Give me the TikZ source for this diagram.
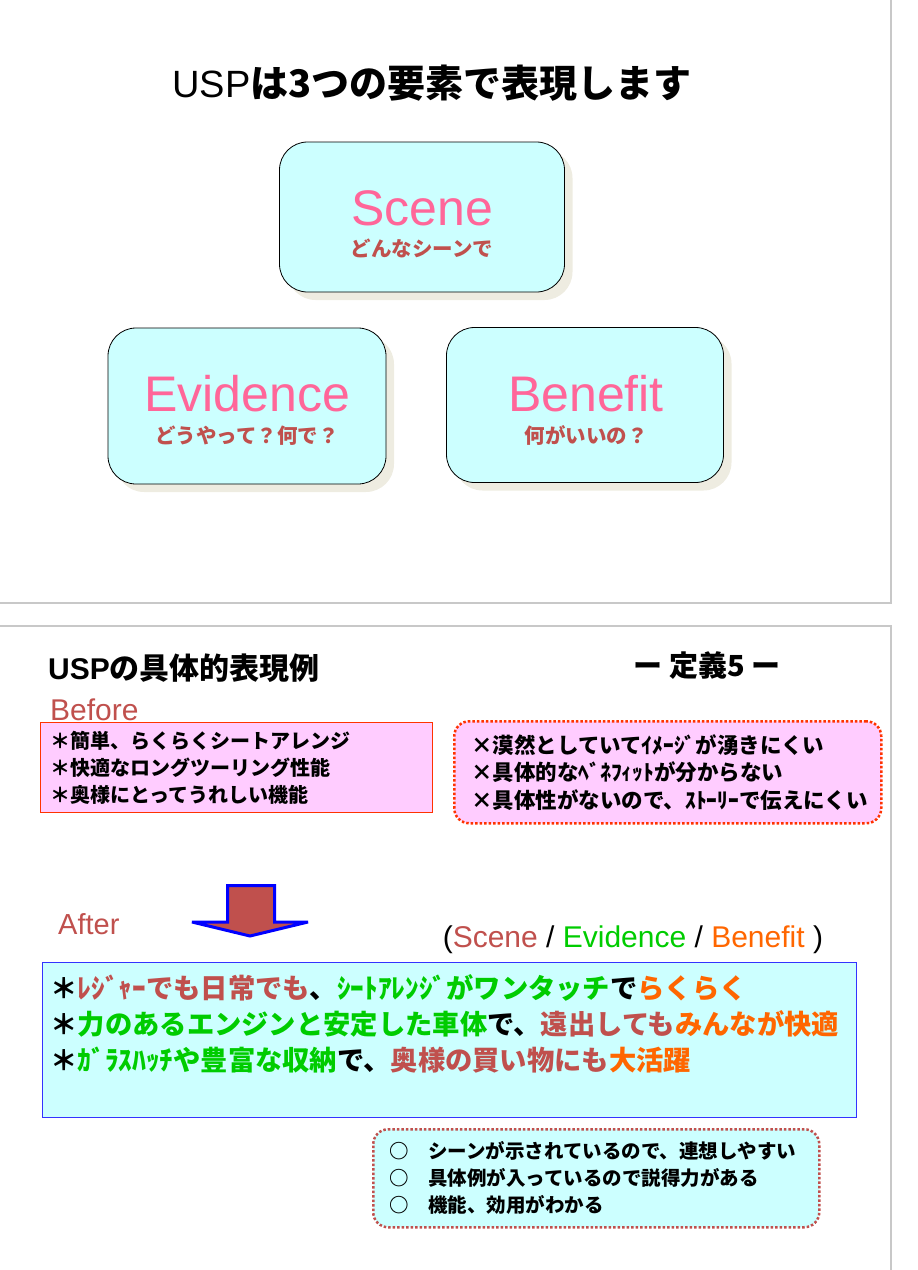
\documentclass[tikz,border=0pt]{standalone}
\usepackage{fontspec}
\setmainfont{Liberation Sans}
\newfontfamily\jp{Noto Sans CJK JP}
\usetikzlibrary{positioning, shadows}
\definecolor{boxcyan}{HTML}{CCFFFF}
\definecolor{boxpink}{HTML}{FFCCFF}
\definecolor{headpink}{HTML}{FF6699}
\definecolor{brick}{HTML}{C0504D}
\definecolor{leaf}{HTML}{00CC00}
\definecolor{tangerine}{HTML}{FF6600}
\definecolor{alarm}{HTML}{FF3300}
\definecolor{afterblue}{HTML}{3333FF}
\definecolor{framegray}{HTML}{C8C8C8}
\definecolor{shade}{HTML}{EEECE1}

\begin{document}
\begin{tikzpicture}[
    x=1pt, y=-1pt,
    element/.style={draw=black, line width=0.8pt, fill=boxcyan, rounded corners=28pt,
        drop shadow={shadow xshift=8pt, shadow yshift=-8pt, fill=shade, opacity=1}},
    word/.style={anchor=base, inner sep=0pt, text=headpink, font=\fontsize{50}{60}\selectfont},
    subtitle/.style={anchor=base, inner sep=0pt, text=brick, font=\jp\bfseries\fontsize{20.5}{24}\selectfont},
    note/.style={align=left, anchor=north west, inner xsep=10pt, inner ysep=0pt, font=\jp\bfseries\fontsize{20}{27}\selectfont},
    dotbox/.style={rounded corners=15pt, line width=2.5pt, dash pattern=on 2.5pt off 2pt},
    slideframe/.style={draw=framegray, line width=1.2pt},
    heading/.style={anchor=base, inner sep=0pt}
]
    \useasboundingbox (0,0) rectangle (918,1270);

    % Slide frames
    \draw[slideframe] (-5,-5) rectangle (891,603);
    \draw[slideframe] (-5,626) rectangle (891,1280);

    % Upper slide
    \node (title) [heading, font=\fontsize{38}{44}\selectfont] at (432,97) {USP{\jp\bfseries は3つの要素で表現します}};

    \node (scene) [element, minimum width=285pt, minimum height=150pt] at (422,217) {};
    \node (evidence) [element, minimum width=278pt, minimum height=156pt] at (247,406) {};
    \node (benefit) [element, minimum width=277pt, minimum height=155pt] at (585,405) {};

    \node (scene-word) [word] at (422,225) {Scene};
    \node (scene-sub) [subtitle] at ([yshift=-31pt]scene-word.base) {どんなシーンで};
    \node (evidence-word) [word] at (247,411) {Evidence};
    \node (evidence-sub) [subtitle] at ([yshift=-32pt]evidence-word.base) {どうやって？何で？};
    \node (benefit-word) [word] at (586,411) {Benefit};
    \node (benefit-sub) [subtitle] at ([yshift=-32pt]benefit-word.base) {何がいいの？};

    % Lower slide
    \node (example-title) [heading, anchor=base west, font=\bfseries\fontsize{30}{36}\selectfont] at (48,679) {USP{\jp の具体的表現例}};
    \node (definition) [heading, font=\jp\bfseries\fontsize{29}{34}\selectfont] at (707,676) {ー 定義5 ー};

    \node (before-box) [note, draw=alarm, line width=1pt, fill=boxpink, text width=372pt, minimum height=90pt] at (40,722)
        {＊簡単、らくらくシートアレンジ\\＊快適なロングツーリング性能\\＊奥様にとってうれしい機能};
    \node (before) [heading, text=brick, font=\fontsize{30}{36}\selectfont, above right=1pt and 10pt of before-box.north west] {Before};

    \node (vague-box) [note, dotbox, draw=alarm, fill=boxpink, text width=393pt, inner xsep=17pt, minimum height=102pt,
        font=\jp\bfseries\fontsize{21.5}{27.5}\selectfont] at (453,720)
        {×漠然としていてｲﾒｰｼﾞが湧きにくい\\×具体的なﾍﾞﾈﾌｨｯﾄが分からない\\×具体性がないので、ｽﾄｰﾘｰで伝えにくい};

    % Block arrow
    \draw[fill=brick, draw=blue, line width=3pt, line join=miter, miter limit=2]
        (227.5,885.5) -- (274.5,885.5) -- (274.5,922) -- (308,922) -- (250,936) -- (192,922) -- (227.5,922) -- cycle;

    \node (after) [heading, anchor=base west, text=brick, font=\fontsize{29}{34}\selectfont] at (58,934) {After};

    \node (after-box) [note, draw=afterblue, line width=1.2pt, fill=boxcyan, text width=798pt, inner xsep=8pt, minimum height=155pt,
        font=\jp\bfseries\fontsize{27.3}{36}\selectfont] at (42,962)
        {＊\textcolor{brick}{ﾚｼﾞｬｰでも日常でも}、\textcolor{leaf}{ｼｰﾄｱﾚﾝｼﾞがワンタッチ}で\textcolor{tangerine}{らくらく}\\
         ＊\textcolor{leaf}{力のあるエンジンと安定した車体}で、\textcolor{brick}{遠出しても}\textcolor{tangerine}{みんなが快適}\\
         ＊\textcolor{leaf}{ｶﾞﾗｽﾊｯﾁや豊富な収納}で、\textcolor{brick}{奥様の買い物にも}\textcolor{tangerine}{大活躍}\\
         \mbox{}};
    \node (key) [heading, font=\fontsize{30}{36}\selectfont, above left=8pt and 34pt of after-box.north east]
        {(\textcolor{brick}{Scene} / \textcolor{leaf}{Evidence} / \textcolor{tangerine}{Benefit} )};

    \node (merit-box) [note, dotbox, draw=brick, fill=boxcyan, text width=414pt, inner xsep=16pt, minimum height=98pt,
        font=\jp\bfseries\fontsize{19.5}{27}\selectfont] at (372,1128)
        {○　シーンが示されているので、連想しやすい\\○　具体例が入っているので説得力がある\\○　機能、効用がわかる};
\end{tikzpicture}
\end{document}
